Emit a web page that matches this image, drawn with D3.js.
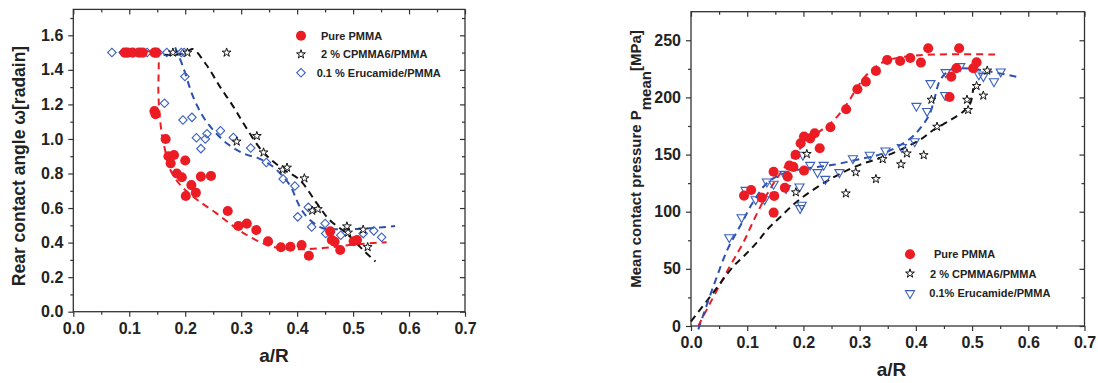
<!DOCTYPE html>
<html><head><meta charset="utf-8">
<script src="https://cdn.jsdelivr.net/npm/d3@7"></script>
<style>
html,body{margin:0;padding:0;background:#fff;}
svg text{font-family:"Liberation Sans",Arial,sans-serif;font-weight:bold;fill:#222;}
</style></head>
<body><svg id="c" width="1098" height="383"></svg>
<script>
// ---------- DATA ----------
const xTicks = [0.0,0.1,0.2,0.3,0.4,0.5,0.6,0.7];
const leftYTicks = [0.0,0.2,0.4,0.6,0.8,1.0,1.2,1.4,1.6];
const rightYTicks = [0,50,100,150,200,250];
const seriesNames = ["Pure PMMA","2 % CPMMA6/PMMA","0.1 % Erucamide/PMMA"];
const seriesNamesRight = ["Pure PMMA","2 % CPMMA6/PMMA","0.1% Erucamide/PMMA"];

// Left: rear contact angle vs a/R
const leftPure = [[0.092,1.5],[0.097,1.5],[0.106,1.5],[0.118,1.5],[0.124,1.5],[0.145,1.5],[0.148,1.5],
 [0.145,1.162],[0.147,1.143],[0.165,1.0],[0.170,0.90],[0.180,0.907],[0.174,0.859],[0.185,0.80],[0.194,0.778],
 [0.200,0.875],[0.201,0.67],[0.211,0.733],[0.219,0.689],[0.228,0.782],[0.246,0.786],[0.276,0.583],[0.295,0.496],
 [0.310,0.51],[0.327,0.473],[0.348,0.407],[0.371,0.373],[0.388,0.376],[0.408,0.386],[0.421,0.324],[0.459,0.465],
 [0.462,0.415],[0.467,0.405],[0.477,0.357],[0.501,0.408],[0.507,0.415]];
const leftCp = [[0.178,1.5],[0.204,1.5],[0.274,1.5],[0.292,0.985],[0.328,1.017],[0.340,0.922],[0.374,0.822],
 [0.382,0.834],[0.413,0.772],[0.427,0.585],[0.437,0.594],[0.489,0.494],[0.491,0.458],[0.518,0.475],[0.526,0.374]];
const leftEru = [[0.069,1.5],[0.089,1.5],[0.095,1.5],[0.114,1.5],[0.132,1.5],[0.152,1.5],[0.167,1.5],[0.193,1.5],
 [0.198,1.5],[0.163,1.207],[0.1995,1.362],[0.196,1.11],[0.212,1.125],[0.220,1.007],[0.236,1.0],[0.228,0.944],
 [0.239,1.03],[0.263,1.047],[0.286,1.008],[0.317,0.948],[0.345,0.864],[0.375,0.768],[0.396,0.728],[0.401,0.549],
 [0.420,0.604],[0.426,0.490],[0.450,0.511],[0.451,0.453],[0.478,0.443],[0.518,0.452],[0.537,0.468],[0.551,0.431]];
const leftPureFit = [[0.082,1.5],[0.149,1.5],[0.152,1.47],[0.152,1.28],[0.1536,1.168],[0.158,1.033],[0.164,0.936],
 [0.171,0.84],[0.185,0.758],[0.2026,0.697],[0.226,0.637],[0.256,0.569],[0.284,0.5],[0.31,0.444],[0.339,0.396],
 [0.369,0.367],[0.411,0.362],[0.458,0.372],[0.506,0.39],[0.56,0.402]];
const leftCpFit = [[0.14,1.49],[0.19,1.49],[0.205,1.51],[0.214,1.52],[0.238,1.428],[0.262,1.303],[0.286,1.187],
 [0.31,1.06],[0.339,0.925],[0.375,0.825],[0.405,0.762],[0.435,0.628],[0.458,0.531],[0.488,0.454],[0.518,0.357],[0.54,0.29]];
const leftEruFit = [[0.182,1.53],[0.196,1.419],[0.214,1.245],[0.232,1.129],[0.25,1.052],[0.274,0.975],[0.3036,0.917],
 [0.333,0.885],[0.357,0.839],[0.387,0.733],[0.399,0.647],[0.408,0.589],[0.423,0.531],[0.446,0.483],[0.476,0.477],
 [0.53,0.483],[0.575,0.496]];

// Right: mean contact pressure vs a/R
const rightPure = [[0.0944,114.1],[0.107,119],[0.126,112.3],[0.147,135],[0.148,113.8],[0.147,99.2],[0.167,121],
 [0.172,130.7],[0.175,140.3],[0.182,139.2],[0.186,149.7],[0.195,159.9],[0.201,165.7],[0.212,164.2],[0.220,168.6],
 [0.201,136],[0.229,155.5],[0.248,173.9],[0.276,189.6],[0.296,207.1],[0.311,213.8],[0.329,223.2],[0.349,232.8],
 [0.372,231.9],[0.390,234.5],[0.409,230.5],[0.422,243],[0.460,200.4],[0.463,218.2],[0.472,225.5],[0.477,243],
 [0.502,225.5],[0.508,230.7]];
const rightCp = [[0.1865,117],[0.206,150.5],[0.2755,116],[0.293,134.5],[0.329,128.6],[0.341,146],[0.3735,141.5],
 [0.384,151],[0.414,149.5],[0.4277,198],[0.4377,174.4],[0.491,198],[0.493,189],[0.508,210],[0.52,201.6],[0.527,223.5]];
const rightEru = [[0.068,77.6],[0.090,95.1],[0.097,119],[0.115,110.8],[0.131,110.8],[0.135,126.3],[0.147,124.3],
 [0.166,133],[0.169,120.5],[0.193,122],[0.194,103],[0.197,106],[0.199,149.7],[0.212,140.9],[0.225,134.5],
 [0.236,140.9],[0.239,128.6],[0.264,134.5],[0.288,146.7],[0.318,149.7],[0.346,153.4],[0.375,156.4],[0.398,161.5],
 [0.401,192.5],[0.420,188],[0.426,212.4],[0.453,222],[0.452,202],[0.479,227.3],[0.512,220],[0.520,218.5],
 [0.539,214],[0.551,222.6]];
const rightPureFit = [[0.013,0],[0.034,20],[0.07,53],[0.093,73],[0.114,95],[0.135,115],[0.158,133],[0.188,152],
 [0.218,166],[0.254,180],[0.277,194],[0.295,208],[0.313,220],[0.342,231],[0.372,235],[0.432,237.5],[0.55,237.5]];
const rightCpFit = [[0,4],[0.034,25.6],[0.075,52],[0.093,60.6],[0.117,73],[0.135,84],[0.158,95],[0.194,111],
 [0.253,130],[0.3,141],[0.348,149],[0.4075,163],[0.431,171.5],[0.461,180],[0.485,188],[0.497,195],[0.502,208]];
const rightEruFit = [[0.013,-3],[0.04,35],[0.065,67],[0.088,88],[0.11,108],[0.135,125],[0.165,133.6],[0.206,138],
 [0.253,141],[0.295,145.5],[0.342,151],[0.39,164],[0.41,174.4],[0.425,186],[0.434,200.6],[0.443,215],[0.461,224],
 [0.485,225.5],[0.532,222.6],[0.58,218]];

// ---------- DRAW ----------
const RED = "#ec1c24", BLUE = "#2b50ad", BLUEMK = "#3a5fbf", BLK = "#111";
const svg = d3.select("#c");
svg.append("rect").attr("width",1098).attr("height",383).attr("fill","#fff");

function panel(o){
  const g = svg.append("g");
  const x = d3.scaleLinear().domain([0,0.7]).range([o.x0,o.x1]);
  const y = d3.scaleLinear().domain(o.yDomain).range([o.y0,o.y1]);
  const minorX = d3.range(0.05,0.7,0.1);
  // frame
  g.append("rect").attr("x",o.x0).attr("y",o.y1).attr("width",o.x1-o.x0).attr("height",o.y0-o.y1)
    .attr("fill","none").attr("stroke","#333").attr("stroke-width",1.3);
  const ax = (axis, tr) => {
    const a = g.append("g").attr("transform",tr).call(axis);
    a.select(".domain").remove();
    a.selectAll("line").attr("stroke","#333").attr("stroke-width",1.2);
    a.selectAll("text").attr("font-size",16).attr("fill","#222")
      .attr("font-family","'Liberation Sans',Arial,sans-serif").attr("font-weight","bold");
    return a;
  };
  ax(d3.axisBottom(x).tickValues(xTicks).tickSize(5).tickPadding(6).tickFormat(d3.format(".1f")), `translate(0,${o.y0})`);
  ax(d3.axisBottom(x).tickValues(minorX).tickSize(3).tickFormat(""), `translate(0,${o.y0})`);
  ax(d3.axisBottom(x).tickValues(xTicks).tickSize(5).tickFormat(""), `translate(0,${o.y1})`);
  ax(d3.axisBottom(x).tickValues(minorX).tickSize(3).tickFormat(""), `translate(0,${o.y1})`);
  ax(d3.axisLeft(y).tickValues(o.yTicks).tickSize(5).tickPadding(5).tickFormat(o.yFmt), `translate(${o.x0},0)`);
  ax(d3.axisLeft(y).tickValues(o.yMinor).tickSize(3).tickFormat(""), `translate(${o.x0},0)`);
  ax(d3.axisLeft(y).tickValues(o.yTicks).tickSize(5).tickFormat(""), `translate(${o.x1},0)`);
  ax(d3.axisLeft(y).tickValues(o.yMinor).tickSize(3).tickFormat(""), `translate(${o.x1},0)`);
  // fit lines
  const line = d3.line().x(d=>x(d[0])).y(d=>y(d[1])).curve(d3.curveCatmullRom.alpha(0.5));
  o.fits.forEach(f=>{
    g.append("path").attr("d",line(f.data)).attr("fill","none").attr("stroke",f.color)
      .attr("stroke-width",2).attr("stroke-dasharray","7,5");
  });
  // markers
  o.series.forEach(s=>{
    g.append("g").selectAll("path").data(s.data).join("path")
      .attr("d",d3.symbol().type(s.type).size(s.size)())
      .attr("transform",d=>`translate(${x(d[0])},${y(d[1])}) rotate(${s.rot||0})`)
      .attr("fill",s.fill).attr("stroke",s.stroke).attr("stroke-width",s.sw);
  });
  return {x,y,g};
}

const symCircle = {type:d3.symbolCircle,size:80,fill:RED,stroke:"none",sw:0};
const symStar = {type:d3.symbolStar,size:24,fill:"#fff",stroke:BLK,sw:1};
const symDiam = {type:d3.symbolSquare,size:36,fill:"none",stroke:BLUEMK,sw:1.1,rot:45};
const symTri = {type:d3.symbolTriangle,size:36,fill:"none",stroke:BLUEMK,sw:1.1,rot:180};

const L = panel({x0:73.3,x1:465,y0:311.7,y1:9.4,yDomain:[0,1.75],yTicks:leftYTicks,
  yMinor:d3.range(0.1,1.75,0.2),yFmt:d3.format(".1f"),
  fits:[{data:leftPureFit,color:RED},{data:leftCpFit,color:BLK},{data:leftEruFit,color:BLUE}],
  series:[Object.assign({data:leftEru},symDiam),Object.assign({data:leftCp},symStar),Object.assign({data:leftPure},symCircle)]});

const R = panel({x0:691,x1:1084.5,y0:326,y1:11.7,yDomain:[0,275],yTicks:rightYTicks,
  yMinor:d3.range(25,275,50),yFmt:d3.format("d"),
  fits:[{data:rightPureFit,color:RED},{data:rightCpFit,color:BLK},{data:rightEruFit,color:BLUE}],
  series:[Object.assign({data:rightEru},symTri),Object.assign({data:rightCp},symStar),Object.assign({data:rightPure},symCircle)]});

// axis titles
svg.append("text").attr("x",274).attr("y",361.5).attr("text-anchor","middle").attr("font-size",19).text("a/R");
svg.append("text").attr("x",891.5).attr("y",376).attr("text-anchor","middle").attr("font-size",19).text("a/R");
svg.append("text").attr("transform","translate(25,166) rotate(-90)").attr("text-anchor","middle")
  .attr("font-size",17.5).text("Rear contact angle ω[radain]");
const rt = svg.append("text").attr("transform","translate(641,159) rotate(-90)").attr("text-anchor","middle").attr("font-size",15);
rt.append("tspan").text("Mean contact pressure P");
rt.append("tspan").attr("dy",10).text("mean");
rt.append("tspan").attr("dy",-10).text("[MPa]");

// legends
function legend(items){
  items.forEach(it=>{
    svg.append("path").attr("d",d3.symbol().type(it.s.type).size(it.s.size)())
      .attr("transform",`translate(${it.mx},${it.my}) rotate(${it.s.rot||0})`)
      .attr("fill",it.s.fill).attr("stroke",it.s.stroke).attr("stroke-width",it.s.sw);
    svg.append("text").attr("x",it.tx).attr("y",it.my+4).attr("font-size",11).text(it.label);
  });
}
legend([
  {s:symCircle,mx:301,my:35.7,tx:321,label:seriesNames[0]},
  {s:symStar,mx:301,my:54.3,tx:321,label:seriesNames[1]},
  {s:symDiam,mx:301,my:72.7,tx:316.7,label:seriesNames[2]},
  {s:symCircle,mx:910,my:254.3,tx:934,label:seriesNamesRight[0]},
  {s:symStar,mx:910,my:273.5,tx:930,label:seriesNamesRight[1]},
  {s:symTri,mx:910,my:293.3,tx:929.3,label:seriesNamesRight[2]}
]);
</script></body></html>
